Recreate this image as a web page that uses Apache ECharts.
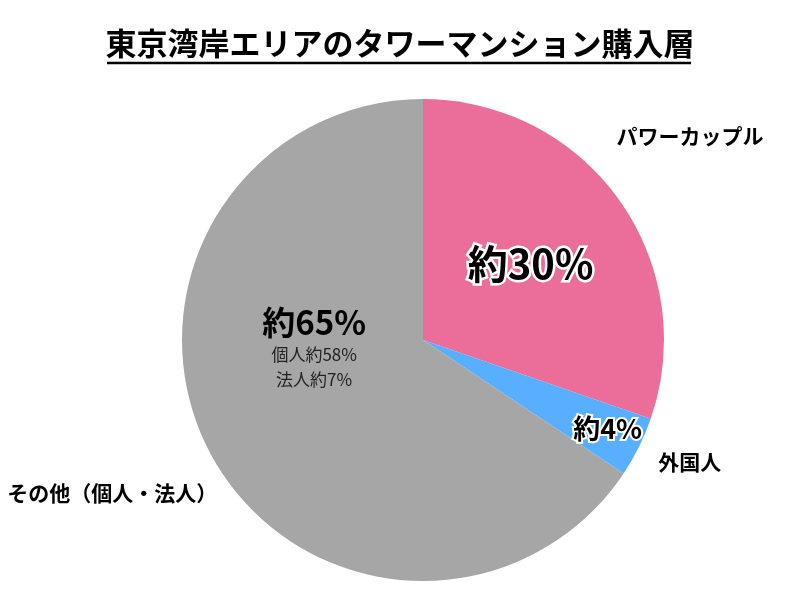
<!DOCTYPE html>
<html>
<head>
<meta charset="utf-8">
<script src="https://cdn.jsdelivr.net/npm/echarts@6/dist/echarts.min.js"></script>
<style>html,body{margin:0;padding:0;background:#fff;}#c{width:800px;height:600px;}</style>
</head>
<body>
<div id="c"></div>
<script>
const titleText = '東京湾岸エリアのタワーマンション購入層';
const categories = ['パワーカップル', '外国人', 'その他（個人・法人）'];
const values = [30, 4, 65];
const innerLabels = ['約30%', '約4%', '約65%'];
const subLabels = ['', '', '個人約58%\n法人約7%'];
const colors = ['#EB6E9A', '#58AEFF', '#A6A6A6'];

const FONT = '"Noto Sans CJK JP", "Noto Sans", sans-serif';
const innerOffsets = [[7, -5], [74, 34], [0, -51]];
const outerOffsets = [[-35, -55], [-14, 8], [40, 32]];

const chart = echarts.init(document.getElementById('c'), null, {renderer: 'canvas'});

const baseData = categories.map((n, i) => ({name: n, value: values[i], itemStyle: {color: colors[i]}}));

const innerData = baseData.map((d, i) => {
  const item = Object.assign({}, d);
  if (i === 0) {
    item.label = {formatter: innerLabels[i], fontSize: 40, fontWeight: 'bold', color: '#000', textBorderColor: '#fff', textBorderWidth: 5};
  } else if (i === 1) {
    item.label = {formatter: innerLabels[i], fontSize: 27, fontWeight: 'bold', color: '#000', textBorderColor: '#fff', textBorderWidth: 4};
  } else {
    item.label = {
      formatter: '{big|' + innerLabels[i] + '}\n' + subLabels[i].split('\n').map(s => '{small|' + s + '}').join('\n'),
      rich: {
        big: {fontSize: 33, fontWeight: 'bold', color: '#000', lineHeight: 40, fontFamily: FONT},
        small: {fontSize: 17, color: '#222', lineHeight: 25, fontFamily: FONT}
      }
    };
  }
  return item;
});

const outerData = baseData.map(d => ({name: d.name, value: d.value, itemStyle: {color: 'rgba(0,0,0,0)'}}));

chart.setOption({
  animation: false,
  title: {
    text: titleText,
    left: 'center',
    top: 23,
    textStyle: {fontSize: 31, fontWeight: 'bold', color: '#000', fontFamily: FONT}
  },
  graphic: [{
    type: 'line',
    shape: {x1: 107, y1: 63, x2: 691, y2: 63},
    style: {stroke: '#000', lineWidth: 2.5}
  }],
  series: [
    {
      type: 'pie',
      center: [423, 340],
      radius: 241,
      startAngle: 90,
      clockwise: true,
      silent: true,
      data: innerData,
      label: {show: true, position: 'inner', fontFamily: FONT},
      labelLine: {show: false},
      labelLayout: p => ({dx: innerOffsets[p.dataIndex][0], dy: innerOffsets[p.dataIndex][1]}),
      itemStyle: {borderWidth: 0}
    },
    {
      type: 'pie',
      center: [423, 340],
      radius: 241,
      startAngle: 90,
      clockwise: true,
      silent: true,
      data: outerData,
      avoidLabelOverlap: false,
      label: {show: true, position: 'outside', formatter: '{b}', fontSize: 21, fontWeight: 'bold', color: '#000', fontFamily: FONT},
      labelLine: {show: false, length: 15, length2: 15},
      labelLayout: p => ({dx: outerOffsets[p.dataIndex][0], dy: outerOffsets[p.dataIndex][1]}),
      z: 3
    }
  ]
});
</script>
</body>
</html>
